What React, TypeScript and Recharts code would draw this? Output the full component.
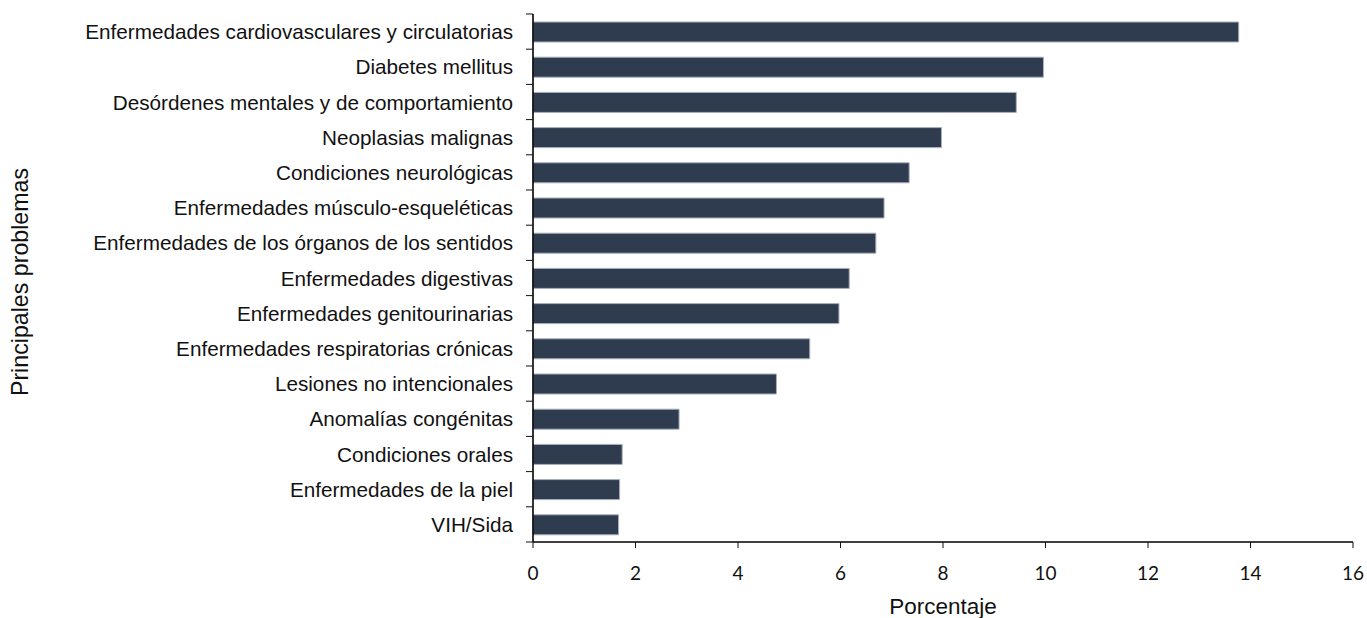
import React from "react";
import { BarChart, Bar, XAxis, YAxis, Label } from "recharts";

// Main health problems, share of total (%)
const categories: string[] = [
  "Enfermedades cardiovasculares y circulatorias",
  "Diabetes mellitus",
  "Desórdenes mentales y de comportamiento",
  "Neoplasias malignas",
  "Condiciones neurológicas",
  "Enfermedades músculo-esqueléticas",
  "Enfermedades de los órganos de los sentidos",
  "Enfermedades digestivas",
  "Enfermedades genitourinarias",
  "Enfermedades respiratorias crónicas",
  "Lesiones no intencionales",
  "Anomalías congénitas",
  "Condiciones orales",
  "Enfermedades de la piel",
  "VIH/Sida",
];

const percentages: number[] = [
  13.77, 9.96, 9.43, 7.97, 7.34, 6.85, 6.69, 6.17, 5.97, 5.4, 4.75, 2.85, 1.74,
  1.69, 1.67,
];

const xTicks: number[] = [0, 2, 4, 6, 8, 10, 12, 14, 16];

const data = categories.map((name, i) => ({ name, value: percentages[i] }));

const WIDTH = 1367;
const HEIGHT = 618;
const Y_AXIS_WIDTH = 533;
const LABEL_FONT = "'Liberation Sans', Arial, Helvetica, sans-serif";
const NUMBER_FONT = "Lato, 'Open Sans', sans-serif";
const TICK_MARGIN = 20;
const TICK_LEN = 7;

// Category label plus Excel-style tick marks drawn between the categories
const CategoryTick = (props: any) => {
  const { x, y, payload, index } = props;
  const half = payload && typeof payload.offset === "number" && payload.offset > 0 ? payload.offset : 17.6;
  const axisX = x + TICK_MARGIN;
  return (
    <g>
      <text
        x={x}
        y={y}
        textAnchor="end"
        dominantBaseline="central"
        fontFamily={LABEL_FONT}
        fontSize={20.7}
        fill="#111"
      >
        {payload.value}
      </text>
      <line x1={axisX - TICK_LEN} x2={axisX} y1={y - half} y2={y - half} stroke="#111" strokeWidth={1} />
      {index === categories.length - 1 && (
        <line x1={axisX - TICK_LEN} x2={axisX} y1={y + half} y2={y + half} stroke="#111" strokeWidth={1} />
      )}
    </g>
  );
};

// Value labels under the horizontal axis
const ValueTick = (props: any) => {
  const { x, y, payload } = props;
  return (
    <text
      x={x}
      y={y}
      textAnchor="middle"
      fontFamily={NUMBER_FONT}
      fontSize={19}
      fill="#111"
    >
      {payload.value}
    </text>
  );
};

const YTitle = () => (
  <text
    x={20}
    y={282}
    transform="rotate(-90, 20, 282)"
    textAnchor="middle"
    dominantBaseline="central"
    fontFamily={LABEL_FONT}
    fontSize={23.2}
    fill="#111"
  >
    Principales problemas
  </text>
);

const XTitle = (props: any) => {
  const vb = props.viewBox || { x: 533, width: 820 };
  return (
    <text
      x={vb.x + vb.width / 2}
      y={606}
      textAnchor="middle"
      dominantBaseline="central"
      fontFamily={LABEL_FONT}
      fontSize={22.5}
      fill="#111"
    >
      Porcentaje
    </text>
  );
};

export default function App() {
  return (
    <div
      style={{
        position: "fixed",
        left: 0,
        top: 0,
        width: WIDTH,
        height: HEIGHT,
        background: "#fff",
        overflow: "hidden",
      }}
    >
      <style>{"html,body{margin:0;overflow:hidden;}"}</style>
      <BarChart
        width={WIDTH}
        height={HEIGHT}
        data={data}
        layout="vertical"
        margin={{ top: 14, right: 14, bottom: 0, left: 0 }}
      >
        <XAxis
          type="number"
          domain={[0, 16]}
          ticks={xTicks}
          interval={0}
          height={76}
          axisLine={{ stroke: "#000", strokeWidth: 1.6 }}
          tickLine={{ stroke: "#111", strokeWidth: 1 }}
          tickSize={6}
          tickMargin={32}
          tick={<ValueTick />}
        >
          <Label content={XTitle} />
        </XAxis>
        <YAxis
          type="category"
          dataKey="name"
          width={Y_AXIS_WIDTH}
          interval={0}
          axisLine={{ stroke: "#000", strokeWidth: 1.6 }}
          tickLine={false}
          tickSize={0}
          tickMargin={TICK_MARGIN}
          tick={<CategoryTick />}
        >
          <Label content={YTitle} />
        </YAxis>
        <Bar
          dataKey="value"
          barSize={20}
          fill="#2f3b4e"
          stroke="#a9b0bb"
          strokeWidth={1}
          isAnimationActive={false}
        />
      </BarChart>
    </div>
  );
}
